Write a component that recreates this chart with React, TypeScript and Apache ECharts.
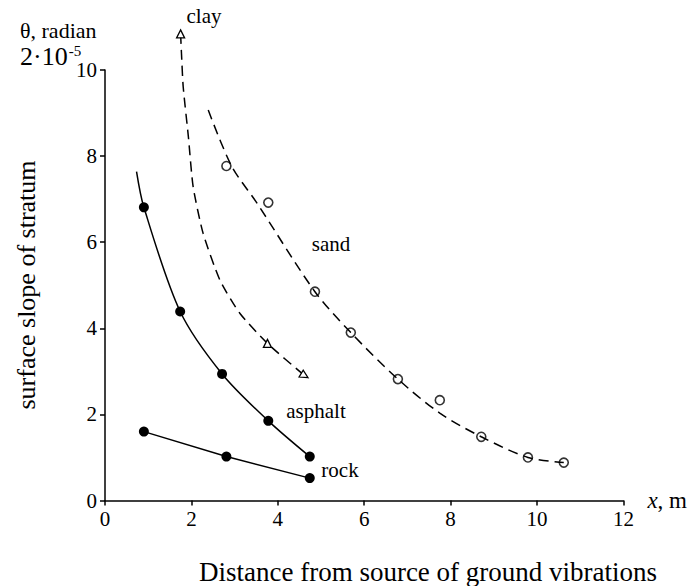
import React, { useEffect, useRef } from "react";
import * as echarts from "echarts";

const FONT = "Liberation Serif";

// axis ticks
const xMin = 0, xMax = 12, xStep = 2;
const yMin = 0, yMax = 10, yStep = 2;

// asphalt: solid curve, filled dots (first point is curve start, no dot)
const asphaltX = [0.73, 0.9, 1.74, 2.71, 3.78, 4.74];
const asphaltY = [7.64, 6.81, 4.39, 2.94, 1.85, 1.02];
const asphaltDot = [false, true, true, true, true, true];

// rock: solid polyline, filled dots
const rockX = [0.9, 2.81, 4.74];
const rockY = [1.6, 1.02, 0.52];

// clay: dashed curve with arrowheads / triangles
const clayX = [1.75, 1.77, 1.81, 1.93, 2.04, 2.27, 2.66, 3.12, 3.76, 4.62];
const clayY = [10.84, 10.39, 9.61, 8.45, 7.29, 6.21, 5.12, 4.35, 3.65, 2.9];
const clayMark = [0, -1, -1, -1, -1, -1, -1, -1, 0, -121]; // rotation, -1 = none

// sand: dashed fitted curve + open circles (measurements)
const sandCurveX = [2.39, 2.93, 3.51, 4.86, 5.69, 6.78, 7.75, 8.71, 9.79, 10.62];
const sandCurveY = [9.07, 7.77, 6.92, 4.85, 3.9, 2.82, 2.03, 1.48, 1.0, 0.88];
const sandPtX = [2.81, 3.78, 4.86, 5.69, 6.78, 7.75, 8.71, 9.79, 10.62];
const sandPtY = [7.77, 6.92, 4.85, 3.9, 2.82, 2.33, 1.48, 1.0, 0.88];

export default function App() {
  const ref = useRef<HTMLDivElement>(null);
  useEffect(() => {
    if (!ref.current) return;
    const chart = echarts.init(ref.current, null, { renderer: "svg" });
    const black = "#000";
    const labelStyle = { color: black, fontFamily: FONT, fontSize: 21 };

    const asphaltData = asphaltX.map((x, i) => ({
      value: [x, asphaltY[i]],
      symbol: asphaltDot[i] ? "circle" : "none",
    }));
    const rockData = rockX.map((x, i) => [x, rockY[i]]);
    const clayData = clayX.map((x, i) =>
      clayMark[i] === -1
        ? { value: [x, clayY[i]], symbol: "none" }
        : { value: [x, clayY[i]], symbol: "triangle", symbolRotate: clayMark[i] }
    );
    const sandCurve = sandCurveX.map((x, i) => [x, sandCurveY[i]]);
    const sandPts = sandPtX.map((x, i) => [x, sandPtY[i]]);

    const txt = (text: string, x: number, y: number, size: number, align = "center", extra: any = {}, rich?: any) => ({
      type: "text",
      x,
      y,
      silent: true,
      ...extra,
      style: {
        text,
        fontFamily: FONT,
        fontSize: size,
        fill: black,
        textAlign: align,
        textVerticalAlign: "middle",
        ...(rich ? { rich } : {}),
      },
    });

    chart.setOption({
      animation: false,
      backgroundColor: "#fff",
      textStyle: { fontFamily: FONT, color: black },
      grid: { left: 105, right: 66, top: 70, bottom: 85.5, containLabel: false },
      xAxis: {
        type: "value",
        min: xMin,
        max: xMax,
        interval: xStep,
        axisLine: { show: true, lineStyle: { color: black, width: 1.5 } },
        axisTick: { show: true, length: 5, lineStyle: { color: black, width: 1.5 } },
        splitLine: { show: false },
        axisLabel: { ...labelStyle, margin: 8 },
        name: "{i|x}{n|, m}",
        nameLocation: "end",
        nameGap: 24,
        nameTextStyle: {
          ...labelStyle,
          fontSize: 23,
          verticalAlign: "middle",
          rich: {
            i: { fontFamily: FONT, fontSize: 23, fontStyle: "italic", color: black },
            n: { fontFamily: FONT, fontSize: 23, color: black },
          },
        },
      },
      yAxis: {
        type: "value",
        min: yMin,
        max: yMax,
        interval: yStep,
        axisLine: { show: true, lineStyle: { color: black, width: 1.5 } },
        axisTick: { show: true, length: 5, lineStyle: { color: black, width: 1.5 } },
        splitLine: { show: false },
        axisLabel: { ...labelStyle, margin: 8 },
      },
      series: [
        {
          name: "asphalt",
          type: "line",
          data: asphaltData,
          smooth: 0.3,
          symbolSize: 10,
          showSymbol: true,
          itemStyle: { color: black },
          lineStyle: { color: black, width: 1.5 },
          clip: false,
        },
        {
          name: "rock",
          type: "line",
          data: rockData,
          symbol: "circle",
          symbolSize: 10,
          itemStyle: { color: black },
          lineStyle: { color: black, width: 1.5 },
          clip: false,
        },
        {
          name: "clay",
          type: "line",
          data: clayData,
          smooth: 0.2,
          symbolSize: 8,
          showSymbol: true,
          itemStyle: { color: "#fff", borderColor: black, borderWidth: 1.3 },
          lineStyle: { color: black, width: 1.5, type: [10, 6] },
          clip: false,
          z: 2,
        },
        {
          name: "sand curve",
          type: "line",
          data: sandCurve,
          smooth: 0.3,
          symbol: "none",
          lineStyle: { color: black, width: 1.5, type: [10, 6] },
          clip: false,
        },
        {
          name: "sand",
          type: "scatter",
          data: sandPts,
          symbol: "circle",
          symbolSize: 9,
          itemStyle: { color: "rgba(255,255,255,0)", borderColor: black, borderWidth: 1.6 },
          clip: false,
        },
      ],
      graphic: [
        txt("θ, radian", 20, 30, 22, "left"),
        txt("{b|2·10}{s|-5}", 20, 56, 26, "left", {}, {
          b: { fontFamily: FONT, fontSize: 26, fill: black, lineHeight: 26, verticalAlign: "bottom" },
          s: { fontFamily: FONT, fontSize: 15, fill: black, lineHeight: 26, verticalAlign: "top", padding: [0, 0, 0, 1] },
        }),
        txt("clay", 204, 16, 21),
        txt("sand", 331, 244, 21),
        txt("asphalt", 316, 411, 21),
        txt("rock", 340, 470, 21),
        txt("Distance from source of ground vibrations", 428, 572, 27),
        txt("surface slope of stratum", 26, 285, 26, "center", { rotation: Math.PI / 2 }),
      ],
    });
    return () => chart.dispose();
  }, []);
  return (
    <div
      ref={ref}
      style={{ position: "fixed", left: 0, top: 0, width: 690, height: 586, background: "#fff" }}
    />
  );
}
